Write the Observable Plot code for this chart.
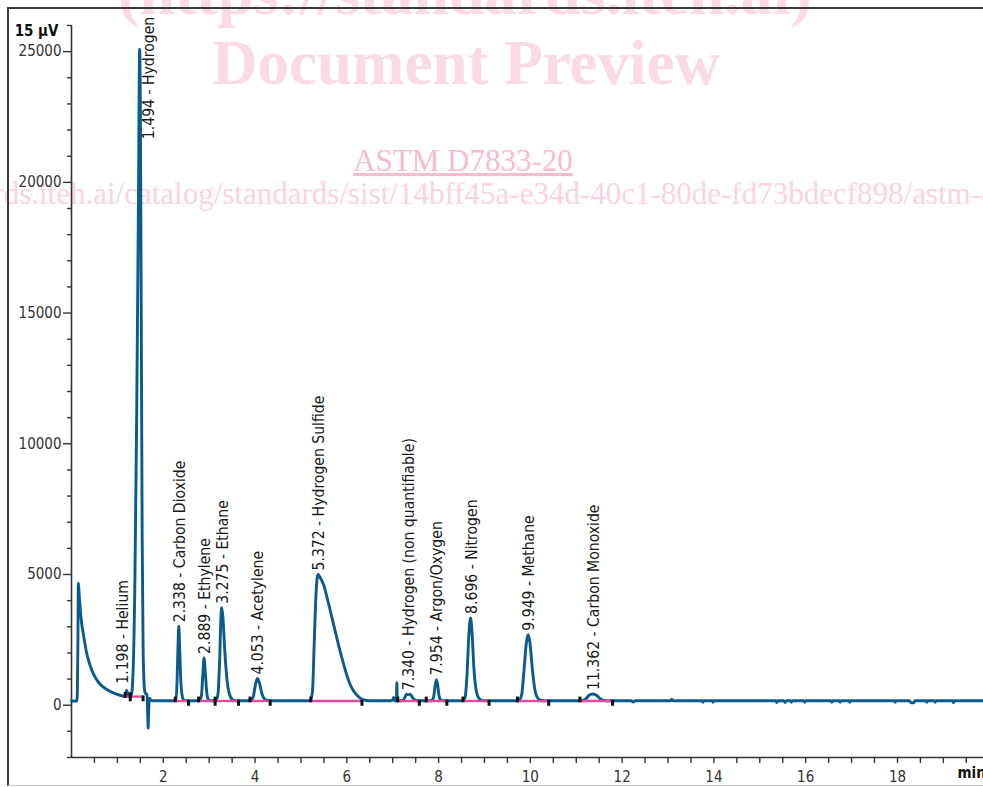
<!DOCTYPE html>
<html>
<head>
<meta charset="utf-8">
<script src="https://cdn.jsdelivr.net/npm/d3@7"></script>
<script src="https://cdn.jsdelivr.net/npm/@observablehq/plot@0.6"></script>
<style>
  html, body { margin: 0; padding: 0; background: #fff; overflow: hidden; }
  #wrap { position: relative; width: 983px; height: 787px; overflow: hidden; }
  #wm { position: absolute; left: 0; top: 0; }
  #frame { position: absolute; left: 7px; top: 7px; width: 1000px; height: 776px;
           border-top: 2px solid #3a3a3a; border-left: 2px solid #3a3a3a; border-bottom: 1px solid #c8c8c8; }
  #chart { position: absolute; left: 0; top: 0; }
</style>
</head>
<body>
<div id="wrap">
  <svg id="wm" width="983" height="787"></svg>
  <div id="frame"></div>
  <div id="chart"></div>
</div>
<script>
// ---------------- data ----------------
// detector trace: [retention time (min), signal (µV units)]
const tracePoints = [
  [0.00, 160], [0.12, 160], [0.14, 2500], [0.150, 4670], [0.165, 4300], [0.19, 3700],
  [0.22, 3150], [0.26, 2700], [0.33, 2000], [0.40, 1550], [0.48, 1190], [0.60, 850],
  [0.77, 600], [0.95, 440], [1.10, 360], [1.16, 340],
  [1.18, 450], [1.20, 560], [1.22, 480], [1.25, 340], [1.30, 340],
  [1.34, 1200], [1.38, 4500], [1.42, 11000], [1.46, 19500], [1.485, 25090], [1.50, 23000],
  [1.52, 15000], [1.54, 6500], [1.56, 2300], [1.58, 900], [1.60, 500], [1.63, 420], [1.645, 420],
  [1.66, -300], [1.67, -880], [1.68, -300], [1.695, 240], [1.71, 260], [1.73, 180], [1.76, 170],
  [2.22, 170], [2.27, 200], [2.30, 900], [2.32, 2200], [2.338, 3020], [2.355, 2300], [2.38, 1000],
  [2.41, 380], [2.45, 190], [2.50, 170],
  [2.78, 170], [2.83, 350], [2.86, 1100], [2.889, 1810], [2.92, 1150], [2.95, 450], [2.99, 200], [3.05, 170],
  [3.14, 170], [3.19, 400], [3.23, 1800], [3.255, 3300], [3.275, 3730], [3.30, 3350], [3.34, 2100],
  [3.39, 950], [3.45, 380], [3.52, 200], [3.60, 170],
  [3.90, 170], [3.96, 320], [4.01, 800], [4.053, 1020], [4.10, 820], [4.15, 440], [4.21, 230], [4.30, 170],
  [5.20, 170], [5.25, 500], [5.29, 2400], [5.33, 4300], [5.372, 5000], [5.43, 4850], [5.49, 4630],
  [5.60, 3900], [5.71, 3100], [5.82, 2300], [5.93, 1570], [6.00, 1150], [6.07, 800], [6.15, 540],
  [6.22, 390], [6.30, 260], [6.40, 190], [6.50, 170],
  [6.95, 170], [7.00, 200], [7.02, 300], [7.04, 170], [7.08, 170], [7.09, 860], [7.10, 170],
  [7.20, 170], [7.26, 280], [7.30, 420], [7.34, 400], [7.38, 420], [7.43, 300], [7.49, 190], [7.56, 170],
  [7.84, 170], [7.89, 300], [7.925, 750], [7.954, 980], [7.98, 760], [8.01, 360], [8.05, 200], [8.12, 170],
  [8.52, 170], [8.58, 320], [8.62, 1200], [8.66, 2700], [8.696, 3340], [8.73, 2750], [8.77, 1400],
  [8.82, 560], [8.88, 260], [8.95, 180], [9.02, 170],
  [9.74, 170], [9.81, 400], [9.86, 1300], [9.91, 2350], [9.949, 2700], [9.99, 2400], [10.04, 1450],
  [10.09, 680], [10.15, 300], [10.22, 190], [10.30, 170],
  [11.10, 170], [11.20, 230], [11.28, 380], [11.362, 430], [11.44, 380], [11.52, 250], [11.60, 180], [11.70, 170],
  [12.20, 170], [12.24, 120], [12.28, 170], [13.05, 170], [13.08, 230], [13.11, 170],
  [13.74, 170], [13.76, 110], [13.78, 170], [13.96, 170], [13.98, 110], [14.00, 170],
  [15.35, 170], [15.37, 100], [15.40, 170], [15.52, 170], [15.55, 100], [15.58, 170],
  [15.67, 170], [15.69, 110], [15.71, 170], [15.96, 170], [15.98, 110], [16.00, 170],
  [16.55, 170], [16.57, 110], [16.59, 170], [16.73, 170], [16.75, 110], [16.77, 170],
  [16.94, 170], [16.96, 110], [16.98, 170], [17.93, 170], [17.95, 110], [17.97, 170],
  [18.26, 170], [18.30, 90], [18.35, 90], [18.38, 170], [18.62, 170], [18.64, 110], [18.66, 170],
  [18.80, 170], [18.82, 110], [18.84, 170], [19.20, 170], [19.22, 100], [19.24, 170], [19.875, 170]
];

// identified peaks
const peakTime = [1.198, 1.494, 2.338, 2.889, 3.275, 4.053, 5.372, 7.340, 7.954, 8.696, 9.949, 11.362];
const peakName = ["Helium", "Hydrogen", "Carbon Dioxide", "Ethylene", "Ethane", "Acetylene",
  "Hydrogen Sulfide", "Hydrogen (non quantifiable)", "Argon/Oxygen", "Nitrogen", "Methane", "Carbon Monoxide"];
const labelValue = [670, 21500, 3020, 1810, 3730, 1020, 5000, 420, 980, 3340, 2700, 430];

// integration baselines (start / end of each peak)
const segStart = [1.17, 1.28, 2.26, 2.77, 3.13, 3.89, 5.215, 7.11, 7.73, 8.53, 9.72, 11.08];
const segEnd   = [1.28, 1.56, 2.55, 3.13, 3.64, 4.33, 6.33, 7.58, 8.18, 9.10, 10.40, 11.79];
const segLevel = [330, 330, 160, 160, 160, 160, 160, 160, 160, 160, 160, 160];

// axes
const xMajor = [2, 4, 6, 8, 10, 12, 14, 16, 18];
const xMinor = d3.range(0.5, 19.51, 0.5).filter(v => !xMajor.includes(v));
const yMajor = [0, 5000, 10000, 15000, 20000, 25000];
const yMinor = d3.range(-2000, 26001, 1000).filter(v => !yMajor.includes(v));
const yTopLabel = "15 µV";
const xUnitLabel = "min";

// ---------------- derived tables ----------------
const peaks = peakTime.map((t, i) => ({t, name: peakName[i], lv: labelValue[i],
  text: `${t.toFixed(3)} - ${peakName[i]}`}));
const segs = segStart.map((s, i) => ({s, e: segEnd[i], lv: segLevel[i]}));
const segTicks = segs.flatMap(d => [
  {t: d.s, y1: d.lv - 65, y2: d.lv + 150},
  {t: d.e, y1: d.lv - 200, y2: d.lv + 25}
]);

const FONT = "'DejaVu Sans Condensed', 'DejaVu Sans', sans-serif";
const BLUE = "#0b5a8c";
const PINK = "#e04aa0";
const LBL = 15.6;

const chart = Plot.plot({
  width: 983,
  height: 787,
  marginLeft: 71,
  marginRight: 0,
  marginTop: 25,
  marginBottom: 30,
  style: {fontFamily: FONT, fontSize: "15px", fontStretch: "condensed", color: "#333", background: "transparent", overflow: "visible"},
  x: {domain: [0, 19.875], label: null},
  y: {domain: [-2000, 26000], label: null},
  marks: [
    Plot.ruleX([0], {y1: -2000, y2: 26000, stroke: "#333", strokeWidth: 1.6}),
    Plot.ruleY([-2000], {stroke: "#333", strokeWidth: 1.6}),
    Plot.axisX({ticks: xMajor, tickSize: 6, tickPadding: 8, tickFormat: d => String(d), label: null, stroke: "#333", strokeWidth: 1.4}),
    Plot.axisX({ticks: xMinor, tickSize: 6, tickFormat: () => "", label: null, stroke: "#333", strokeWidth: 1.4}),
    Plot.axisY({ticks: yMajor, tickSize: 8, tickPadding: 2, tickFormat: d => String(d), label: null, stroke: "#333", strokeWidth: 1.4}),
    Plot.axisY({ticks: yMinor, tickSize: 4, tickFormat: () => "", label: null, stroke: "#333", strokeWidth: 1.4}),
    Plot.line(tracePoints, {x: d => d[0], y: d => d[1], stroke: BLUE, strokeWidth: 2.9, curve: "monotone-x"}),
    Plot.link(segs, {x1: "s", x2: "e", y1: "lv", y2: "lv", stroke: PINK, strokeWidth: 2.4}),
    Plot.ruleX(segTicks, {x: "t", y1: "y1", y2: "y2", stroke: "#111", strokeWidth: 3}),
    Plot.text(peaks.filter(d => d.name !== "Hydrogen" && d.name !== "Helium"),
      {x: "t", y: "lv", text: "text", rotate: -90, textAnchor: "start", dy: -4, dx: 1, fill: "#1a1a1a", fontSize: LBL}),
    Plot.text(peaks.filter(d => d.name === "Hydrogen"),
      {x: "t", y: "lv", text: "text", rotate: -90, textAnchor: "start", dy: -4, dx: 9, fill: "#1a1a1a", fontSize: LBL}),
    Plot.text(peaks.filter(d => d.name === "Helium"),
      {x: "t", y: "lv", text: "text", rotate: -90, textAnchor: "start", dy: -4, dx: -3, fill: "#1a1a1a", fontSize: LBL}),
    Plot.text([yTopLabel], {frameAnchor: "top-left", text: d => d, textAnchor: "end", dx: -13, dy: 0, fontWeight: "bold", fill: "#111", fontSize: 15}),
    Plot.text([xUnitLabel], {frameAnchor: "bottom-right", text: d => d, textAnchor: "start", dx: -26, dy: 20, fontWeight: "bold", fill: "#111", fontSize: 15})
  ]
});
document.getElementById("chart").appendChild(chart);

// ---------------- watermark (background text) ----------------
const wm = d3.select("#wm");
const serif = "'Liberation Serif', 'Times New Roman', serif";
wm.append("text").attr("x", 465).attr("y", 14).attr("text-anchor", "middle")
  .attr("font-family", serif).attr("font-weight", "bold").attr("font-size", 64)
  .attr("fill", "#fadbe3").text("(https://standards.iteh.ai)");
wm.append("text").attr("x", 466).attr("y", 84).attr("text-anchor", "middle")
  .attr("font-family", serif).attr("font-weight", "bold").attr("font-size", 63)
  .attr("fill", "#fadbe3").text("Document Preview");
wm.append("text").attr("x", 463).attr("y", 171).attr("text-anchor", "middle")
  .attr("font-family", serif).attr("font-size", 31).attr("text-decoration", "underline")
  .attr("fill", "#f5bccb").text("ASTM D7833-20");
wm.append("text").attr("x", -172).attr("y", 204).attr("text-anchor", "start")
  .attr("font-family", serif).attr("font-size", 31)
  .attr("fill", "#f9d3dd").text("https://standards.iteh.ai/catalog/standards/sist/14bff45a-e34d-40c1-80de-fd73bdecf898/astm-d7833-20");
</script>
</body>
</html>
